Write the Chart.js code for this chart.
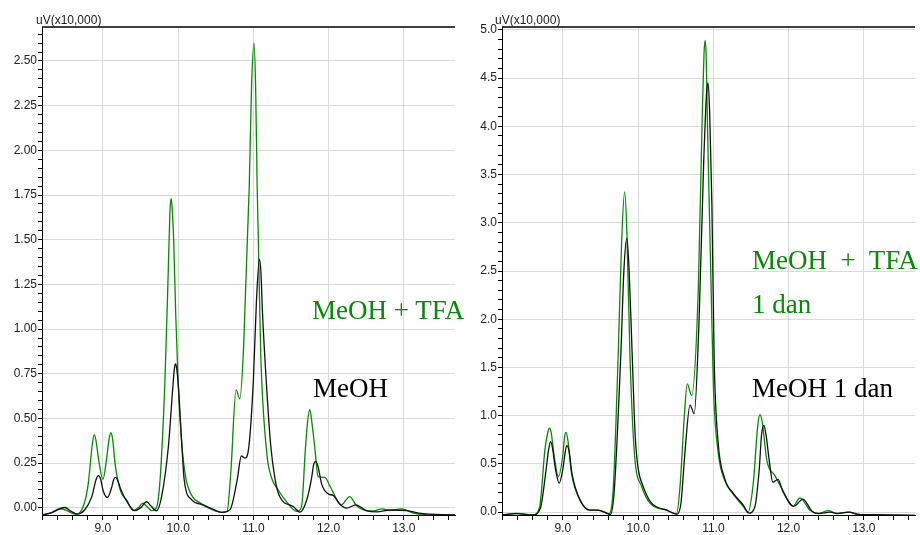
<!DOCTYPE html>
<html>
<head>
<meta charset="utf-8">
<script src="https://cdn.jsdelivr.net/npm/chart.js@4.4.1/dist/chart.umd.min.js"></script>
<style>
  body { margin: 0; background: #fff; width: 920px; height: 535px; overflow: hidden; position: relative; font-family: "Liberation Sans", Arial, sans-serif }
  canvas { position: absolute; top: 0 }
  .unit { position: absolute; top: 13px; font-size: 12px; line-height: 14px; color: #222 }
  .note { position: absolute; font-family: "Liberation Serif", "Times New Roman", serif; font-size: 27px; line-height: 27px; white-space: pre }
  .green { color: #0a870a }
  .black { color: #000 }
</style>
</head>
<body>
<canvas id="chartLeft" width="460" height="535" style="left:0"></canvas>
<canvas id="chartRight" width="460" height="535" style="left:460px"></canvas>

<div class="unit" style="left:36px">uV(x10,000)</div>
<div class="unit" style="left:495px">uV(x10,000)</div>

<div class="note green" style="left:312px;top:297px">MeOH + TFA</div>
<div class="note black" style="left:313px;top:375px">MeOH</div>
<div class="note green" style="left:752px;top:247px">MeOH  +  TFA</div>
<div class="note green" style="left:752px;top:291px">1 dan</div>
<div class="note black" style="left:752px;top:375px">MeOH 1 dan</div>

<script>
// retention time [min] / signal [uV x10,000]

// left panel
const meohX = [8.19, 8.30, 8.49, 8.58, 8.66, 8.75, 8.85, 8.91, 8.94, 8.97, 9.00, 9.06, 9.12, 9.14, 9.17, 9.20, 9.24, 9.32, 9.42, 9.50, 9.58, 9.64, 9.71, 9.78, 9.87, 9.93, 9.95, 9.967, 9.98, 10.00, 10.05, 10.08, 10.18, 10.33, 10.45, 10.58, 10.69, 10.785, 10.84, 10.89, 10.94, 11.00, 11.04, 11.08, 11.10, 11.12, 11.17, 11.23, 11.29, 11.35, 11.53, 11.62, 11.71, 11.775, 11.80, 11.83, 11.86, 11.91, 12.00, 12.06, 12.15, 12.24, 12.36, 12.50, 12.64, 12.82, 13.04, 13.20, 13.68]
const meohY = [-0.04, -0.03, 0.002, -0.02, -0.035, -0.015, 0.06, 0.16, 0.18, 0.16, 0.10, 0.058, 0.12, 0.155, 0.17, 0.15, 0.10, 0.035, -0.015, 0.0, 0.034, 0.01, -0.017, 0.063, 0.343, 0.68, 0.78, 0.805, 0.78, 0.70, 0.343, 0.157, 0.045, 0.017, -0.005, -0.025, -0.01, 0.157, 0.29, 0.278, 0.343, 0.716, 1.15, 1.39, 1.32, 1.10, 0.716, 0.35, 0.157, 0.063, 0.007, -0.024, 0.045, 0.17, 0.24, 0.26, 0.23, 0.13, 0.077, 0.07, 0.02, -0.002, 0.017, -0.015, -0.022, -0.012, -0.015, -0.03, -0.04]

const tfaX = [8.19, 8.30, 8.43, 8.52, 8.63, 8.72, 8.80, 8.86, 8.885, 8.91, 8.95, 9.00, 9.05, 9.08, 9.105, 9.13, 9.16, 9.23, 9.32, 9.40, 9.47, 9.53, 9.58, 9.65, 9.71, 9.76, 9.825, 9.87, 9.89, 9.905, 9.92, 9.94, 9.967, 10.00, 10.05, 10.10, 10.18, 10.30, 10.45, 10.58, 10.65, 10.70, 10.77, 10.82, 10.87, 10.945, 10.975, 11.008, 11.03, 11.05, 11.097, 11.177, 11.24, 11.33, 11.44, 11.575, 11.64, 11.69, 11.72, 11.75, 11.78, 11.82, 11.86, 11.95, 12.02, 12.17, 12.28, 12.37, 12.50, 12.60, 12.71, 12.82, 12.97, 13.13, 13.40, 13.68]
const tfaY = [-0.04, -0.03, -0.005, -0.015, -0.035, -0.01, 0.12, 0.36, 0.41, 0.37, 0.25, 0.16, 0.28, 0.38, 0.42, 0.38, 0.25, 0.10, 0.04, -0.015, 0.0, 0.026, 0.01, -0.015, 0.0, 0.16, 0.72, 1.35, 1.65, 1.73, 1.68, 1.50, 1.09, 0.70, 0.35, 0.17, 0.07, 0.025, -0.01, -0.025, -0.02, 0.20, 0.66, 0.61, 0.90, 1.80, 2.35, 2.60, 2.35, 1.80, 0.87, 0.31, 0.17, 0.10, 0.035, -0.02, 0.007, 0.32, 0.48, 0.55, 0.47, 0.32, 0.175, 0.17, 0.12, 0.017, 0.063, 0.013, -0.015, -0.017, -0.006, -0.015, -0.006, -0.03, -0.04, -0.04]

// right panel (1 dan)
const meoh1dX = [8.19, 8.38, 8.60, 8.70, 8.77, 8.81, 8.835, 8.86, 8.90, 8.95, 9.00, 9.03, 9.05, 9.08, 9.12, 9.23, 9.36, 9.47, 9.58, 9.63, 9.68, 9.77, 9.81, 9.85, 9.88, 9.92, 9.96, 10.00, 10.06, 10.17, 10.38, 10.52, 10.57, 10.62, 10.69, 10.745, 10.81, 10.87, 10.91, 10.93, 10.95, 10.98, 11.01, 11.06, 11.15, 11.27, 11.40, 11.47, 11.55, 11.61, 11.64, 11.67, 11.70, 11.74, 11.79, 11.86, 11.92, 12.07, 12.19, 12.31, 12.40, 12.55, 12.65, 12.80, 12.95, 13.68]
const meoh1dY = [-0.03, -0.015, -0.03, 0.04, 0.40, 0.65, 0.73, 0.67, 0.45, 0.30, 0.45, 0.62, 0.69, 0.64, 0.40, 0.12, 0.02, 0.02, -0.01, -0.025, 0.20, 1.645, 2.50, 2.84, 2.50, 1.645, 0.80, 0.45, 0.28, 0.10, 0.02, -0.02, 0.10, 0.60, 1.11, 1.02, 2.00, 3.60, 4.35, 4.45, 4.15, 3.20, 1.60, 0.75, 0.35, 0.19, 0.07, -0.01, 0.05, 0.45, 0.80, 0.90, 0.80, 0.55, 0.31, 0.34, 0.22, 0.06, 0.135, 0.01, -0.015, 0.0, -0.015, 0.0, -0.025, -0.035]

const tfa1dX = [8.19, 8.385, 8.60, 8.69, 8.76, 8.80, 8.82, 8.845, 8.88, 8.94, 9.00, 9.02, 9.04, 9.065, 9.115, 9.23, 9.36, 9.45, 9.58, 9.61, 9.67, 9.735, 9.78, 9.82, 9.85, 9.89, 9.95, 10.05, 10.16, 10.38, 10.51, 10.556, 10.61, 10.653, 10.71, 10.80, 10.85, 10.875, 10.89, 10.905, 10.92, 10.97, 11.00, 11.065, 11.15, 11.26, 11.31, 11.40, 11.46, 11.53, 11.59, 11.62, 11.65, 11.71, 11.82, 11.91, 12.06, 12.15, 12.285, 12.395, 12.53, 12.64, 12.79, 12.95, 13.68]
const tfa1dY = [-0.03, -0.013, -0.03, 0.055, 0.64, 0.83, 0.87, 0.82, 0.60, 0.37, 0.60, 0.77, 0.826, 0.75, 0.40, 0.124, 0.02, 0.02, -0.01, -0.02, 0.26, 1.645, 2.80, 3.32, 2.90, 1.645, 0.61, 0.26, 0.09, 0.02, -0.02, 0.26, 0.95, 1.33, 1.21, 2.33, 4.06, 4.75, 4.89, 4.70, 4.06, 2.33, 1.30, 0.61, 0.33, 0.19, 0.14, 0.055, -0.003, 0.30, 0.90, 1.01, 0.93, 0.54, 0.376, 0.245, 0.062, 0.148, 0.02, -0.013, 0.015, -0.013, 0.0, -0.03, -0.035]

// tick labels
const xLabels = ["9.0", "10.0", "11.0", "12.0", "13.0"]
const leftYLabels = ["0.00", "0.25", "0.50", "0.75", "1.00", "1.25", "1.50", "1.75", "2.00", "2.25", "2.50"]
const rightYLabels = ["0.0", "0.5", "1.0", "1.5", "2.0", "2.5", "3.0", "3.5", "4.0", "4.5", "5.0"]

const green = "#0a870a"
const black = "#111111"
const gridColour = "#dadada"

Chart.defaults.font.family = "'Liberation Sans', Arial, sans-serif"
Chart.defaults.font.size = 12
Chart.defaults.color = "#222"

function toPoints(xs, ys) {
  return xs.map((x, i) => ({ x: x, y: ys[i] }))
}

// minor tick positions between min and max
function tickValues(min, max, step) {
  const out = []
  for (let k = Math.ceil(min / step - 1e-9); k * step <= max + 1e-9; k++) out.push(+(k * step).toFixed(4))
  return out
}

function labelFor(labels, value) {
  const hit = labels.find(l => Math.abs(parseFloat(l) - value) < 1e-6)
  return hit === undefined ? "" : hit
}

//Draws the closing line on top of the plot area
const topBorder = {
  id: "topBorder",
  afterDraw(chart) {
    const { ctx, chartArea } = chart
    ctx.save()
    ctx.strokeStyle = "#000"
    ctx.lineWidth = 1.5
    ctx.beginPath()
    ctx.moveTo(chartArea.left, chartArea.top)
    ctx.lineTo(chartArea.right, chartArea.top)
    ctx.stroke()
    ctx.restore()
  }
}

function makeChart(canvasId, blackSeries, greenSeries, yMin, yMax, yMinorStep, yLabels) {
  const datasets = [
    { data: blackSeries, borderColor: black },
    { data: greenSeries, borderColor: green }
  ].map(ds => ({ ...ds, borderWidth: 1.3, pointRadius: 0, cubicInterpolationMode: "monotone", fill: false }))

  return new Chart(document.getElementById(canvasId).getContext("2d"), {
    type: "line",
    data: { datasets: datasets },
    plugins: [topBorder],
    options: {
      responsive: false,
      animation: false,
      layout: { padding: { top: 27, right: 5, left: 0, bottom: 0 } },
      plugins: { legend: { display: false }, tooltip: { enabled: false } },
      scales: {
        x: {
          type: "linear",
          min: 8.19,
          max: 13.68,
          afterBuildTicks: scale => { scale.ticks = tickValues(8.2, 13.6, 0.2).map(v => ({ value: v })) },
          afterFit: scale => { scale.height = 20 },
          ticks: { autoSkip: false, maxRotation: 0, padding: 1, callback: v => labelFor(xLabels, v) },
          grid: {
            color: ctx => (ctx.tick && labelFor(xLabels, ctx.tick.value) !== "") ? gridColour : "rgba(0,0,0,0)",
            tickColor: "#000",
            tickLength: 5
          },
          border: { color: "#000", width: 1 }
        },
        y: {
          type: "linear",
          min: yMin,
          max: yMax,
          afterBuildTicks: scale => { scale.ticks = tickValues(0, yMax, yMinorStep).map(v => ({ value: v })) },
          afterFit: scale => { scale.width = 42 },
          ticks: { autoSkip: false, padding: 1, callback: v => labelFor(yLabels, v) },
          grid: {
            color: ctx => (ctx.tick && labelFor(yLabels, ctx.tick.value) !== "") ? gridColour : "rgba(0,0,0,0)",
            tickColor: "#000",
            tickLength: 4
          },
          border: { color: "#000", width: 1 }
        }
      }
    }
  })
}

makeChart("chartLeft", toPoints(meohX, meohY), toPoints(tfaX, tfaY), -0.04, 2.69, 0.05, leftYLabels)
makeChart("chartRight", toPoints(meoh1dX, meoh1dY), toPoints(tfa1dX, tfa1dY), -0.03, 5.03, 0.1, rightYLabels)
</script>
</body>
</html>
